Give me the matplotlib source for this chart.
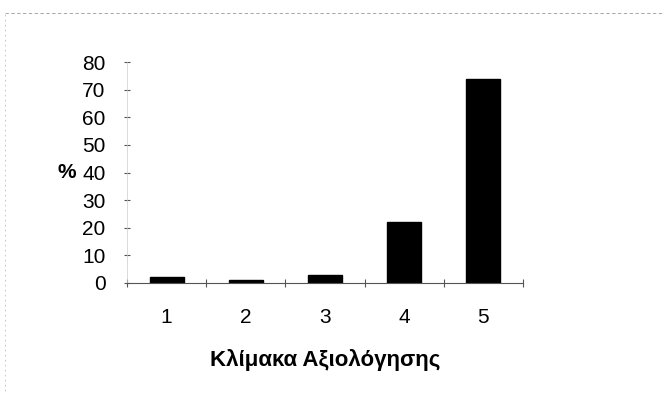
import matplotlib
matplotlib.use("Agg")
import matplotlib.pyplot as plt
from matplotlib.lines import Line2D

categories = ["1", "2", "3", "4", "5"]
percent = [2, 1, 3, 22, 74]
yticks = [0, 10, 20, 30, 40, 50, 60, 70, 80]

plt.rcParams['font.family'] = ['Liberation Sans', 'DejaVu Sans']

fig = plt.figure(figsize=(6.67, 4.03), dpi=100)
ax = fig.add_axes([0.1904, 0.2978, 0.5937, 0.5482])

x = range(len(categories))
ax.bar(x, percent, width=0.43, color="black", edgecolor="black")

ax.set_xlim(-0.5, len(categories) - 0.5)
ax.set_ylim(0, 80)
ax.set_yticks(yticks)
ax.set_yticklabels([str(v) for v in yticks], fontsize=15)

# category labels centred, tick marks between categories
ax.set_xticks(list(x))
ax.set_xticklabels(categories, fontsize=15)
ax.tick_params(axis="x", length=0, pad=18)
ax.set_xticks([i - 0.5 for i in range(len(categories) + 1)], minor=True)
ax.tick_params(axis="x", which="minor", length=6, direction="inout", width=0.8,
               color="#555555")
ax.tick_params(axis="y", length=5, width=0.8, pad=13, direction="inout",
               color="#555555")

for s in ["top", "right"]:
    ax.spines[s].set_visible(False)
ax.spines["left"].set_linewidth(0.5)
ax.spines["left"].set_color("#cccccc")
ax.spines["bottom"].set_linewidth(0.8)
ax.spines["bottom"].set_color("#555555")

ax.set_xlabel("Κλίμακα Αξιολόγησης", fontsize=16, fontweight="bold", labelpad=16)
ax.text(-0.129, 40, "%", transform=ax.get_yaxis_transform(), fontsize=15,
        fontweight="bold", ha="right", va="center")

# faint border of the scanned frame
fig.add_artist(Line2D([0.008, 0.995], [0.968, 0.968], transform=fig.transFigure,
                      color="#999999", lw=0.6, ls=(0, (4, 3))))
fig.add_artist(Line2D([0.008, 0.008], [0.03, 0.968], transform=fig.transFigure,
                      color="#bbbbbb", lw=0.6, ls=(0, (2, 4))))

fig.savefig("out.png", dpi=100)
